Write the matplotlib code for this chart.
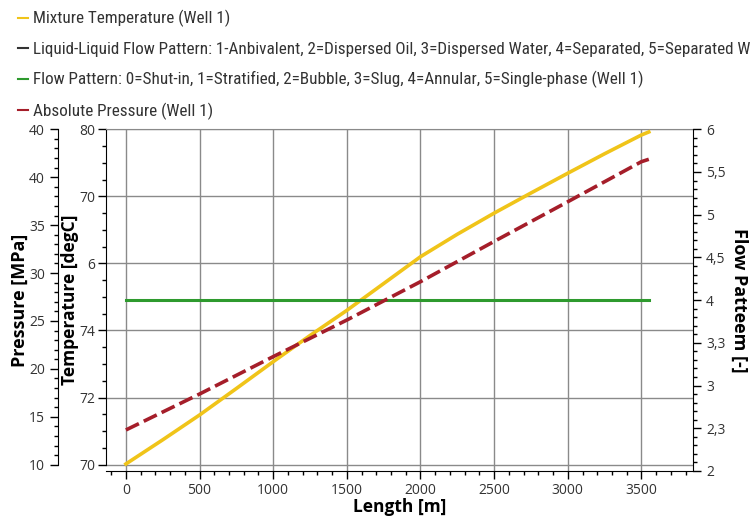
import numpy as np
import matplotlib.pyplot as plt
from matplotlib.lines import Line2D
from matplotlib.ticker import FixedLocator, FixedFormatter, MultipleLocator

# data
length = [0, 250, 500, 750, 1000, 1250, 1500, 1750, 2000, 2250, 2500, 2750, 3000, 3250, 3500, 3550]
temperature = [70.02, 70.74, 71.48, 72.27, 73.07, 73.85, 74.6, 75.4, 76.2, 76.87, 77.5,
               78.1, 78.69, 79.27, 79.83, 79.92]
p_length = [0, 500, 1000, 1500, 2000, 2500, 3000, 3500, 3550]
pressure = [13.63, 17.38, 21.28, 25.1, 29.1, 33.3, 37.44, 41.62, 41.87]
flow_length = [0, 3550]
flow_pattern = [4, 4]

# tick labels as printed in the reference
temp_ticks = [70, 72, 74, 76, 78, 80]
temp_labels = ['70', '72', '74', '6', '70', '80']
pres_ticks = [10, 15, 20, 25, 30, 35, 40, 45]
pres_labels = ['10', '15', '20', '25', '30', '35', '40', '40']
flow_ticks = [2, 2.5, 3, 3.5, 4, 4.5, 5, 5.5, 6]
flow_labels = ['2', '2,3', '3', '3,3', '4', '4,5', '5', '5,5', '6']

legend_labels = ['Mixture Temperature (Well 1)',
                 'Liquid-Liquid Flow Pattern: 1-Anbivalent, 2=Dispersed Oil, 3=Dispersed Water, 4=Separated, 5=Separated W',
                 'Flow Pattern: 0=Shut-in, 1=Stratified, 2=Bubble, 3=Slug, 4=Annular, 5=Single-phase (Well 1)',
                 'Absolute Pressure (Well 1)']

plt.rcParams['font.family'] = ['Open Sans', 'DejaVu Sans']
tick_col = '#333333'

fig = plt.figure(figsize=(7.53, 5.19), dpi=100)
ax = fig.add_axes([0.1408, 0.0925, 0.7795, 0.6584])

# temperature (host)
ax.plot(length, temperature, color='#F0C419', lw=2.6, zorder=3)
ax.set_xlim(-135, 3850)
ax.set_ylim(69.81, 80)
ax.xaxis.set_major_locator(MultipleLocator(500))
ax.xaxis.set_minor_locator(MultipleLocator(100))
ax.yaxis.set_major_locator(FixedLocator(temp_ticks))
ax.yaxis.set_major_formatter(FixedFormatter(temp_labels))
ax.yaxis.set_minor_locator(MultipleLocator(0.5))
ax.grid(True, which='major', color='#8a8a8a', lw=1.0)
ax.spines['top'].set_color('#8a8a8a')
ax.spines['right'].set_visible(False)
ax.spines['left'].set_bounds(70, 80)
ax.tick_params(which='major', length=6, width=1, labelsize=10, labelcolor=tick_col, pad=2)
ax.tick_params(which='minor', length=3, width=1)
ax.tick_params(axis='x', pad=3)
ax.set_xlabel('Length [m]', fontsize=12.5, fontweight='bold', labelpad=0)
ax.set_ylabel('Temperature [degC]', fontsize=12.5, fontweight='bold', labelpad=0)

# flow pattern (right)
ax2 = ax.twinx()
ax2.plot(flow_length, flow_pattern, color='#2E9A2E', lw=2.2, zorder=3)
ax2.set_ylim(2, 6)
ax2.yaxis.set_major_locator(FixedLocator(flow_ticks))
ax2.yaxis.set_major_formatter(FixedFormatter(flow_labels))
ax2.yaxis.set_minor_locator(MultipleLocator(0.1))
for s in ['top', 'left', 'bottom']:
    ax2.spines[s].set_visible(False)
ax2.tick_params(which='major', length=6, width=1, labelsize=10, labelcolor=tick_col)
ax2.tick_params(which='minor', length=3, width=1)
ax2.set_ylabel('Flow Patteem [-]', fontsize=13, fontweight='bold', rotation=270, labelpad=16)

# pressure (outer left)
ax3 = ax.twinx()
ax3.plot(p_length, pressure, color='#A51E2A', lw=2.6, ls=(0, (4, 1.5)), zorder=3)
ax3.set_ylim(9.35, 45)
ax3.spines['left'].set_position(('outward', 34.5))
ax3.spines['left'].set_bounds(10, 45)
ax3.yaxis.set_ticks_position('left')
ax3.yaxis.set_label_position('left')
for s in ['top', 'right', 'bottom']:
    ax3.spines[s].set_visible(False)
ax3.yaxis.set_major_locator(FixedLocator(pres_ticks))
ax3.yaxis.set_major_formatter(FixedFormatter(pres_labels))
ax3.yaxis.set_minor_locator(MultipleLocator(1))
ax3.tick_params(which='major', length=6, width=1, labelsize=10, labelcolor=tick_col)
ax3.tick_params(which='minor', length=3, width=1)
ax3.set_ylabel('Pressure [MPa]', fontsize=13, fontweight='bold', labelpad=0)

# legend at top of the figure
handles = [Line2D([], [], color='#F0C419', lw=1.5),
           Line2D([], [], color='#333333', lw=1.5),
           Line2D([], [], color='#2E9A2E', lw=1.5),
           Line2D([], [], color='#A51E2A', lw=1.5)]
fig.legend(handles, legend_labels, loc='upper left', bbox_to_anchor=(0.004, 1.01),
           frameon=False, handlelength=0.55, handletextpad=0.3,
           labelspacing=0.84, labelcolor='#333333',
           prop={'family': ['Liberation Sans Narrow', 'Roboto Condensed', 'Open Sans'], 'size': 12.3})

fig.savefig('out.png', dpi=100)
